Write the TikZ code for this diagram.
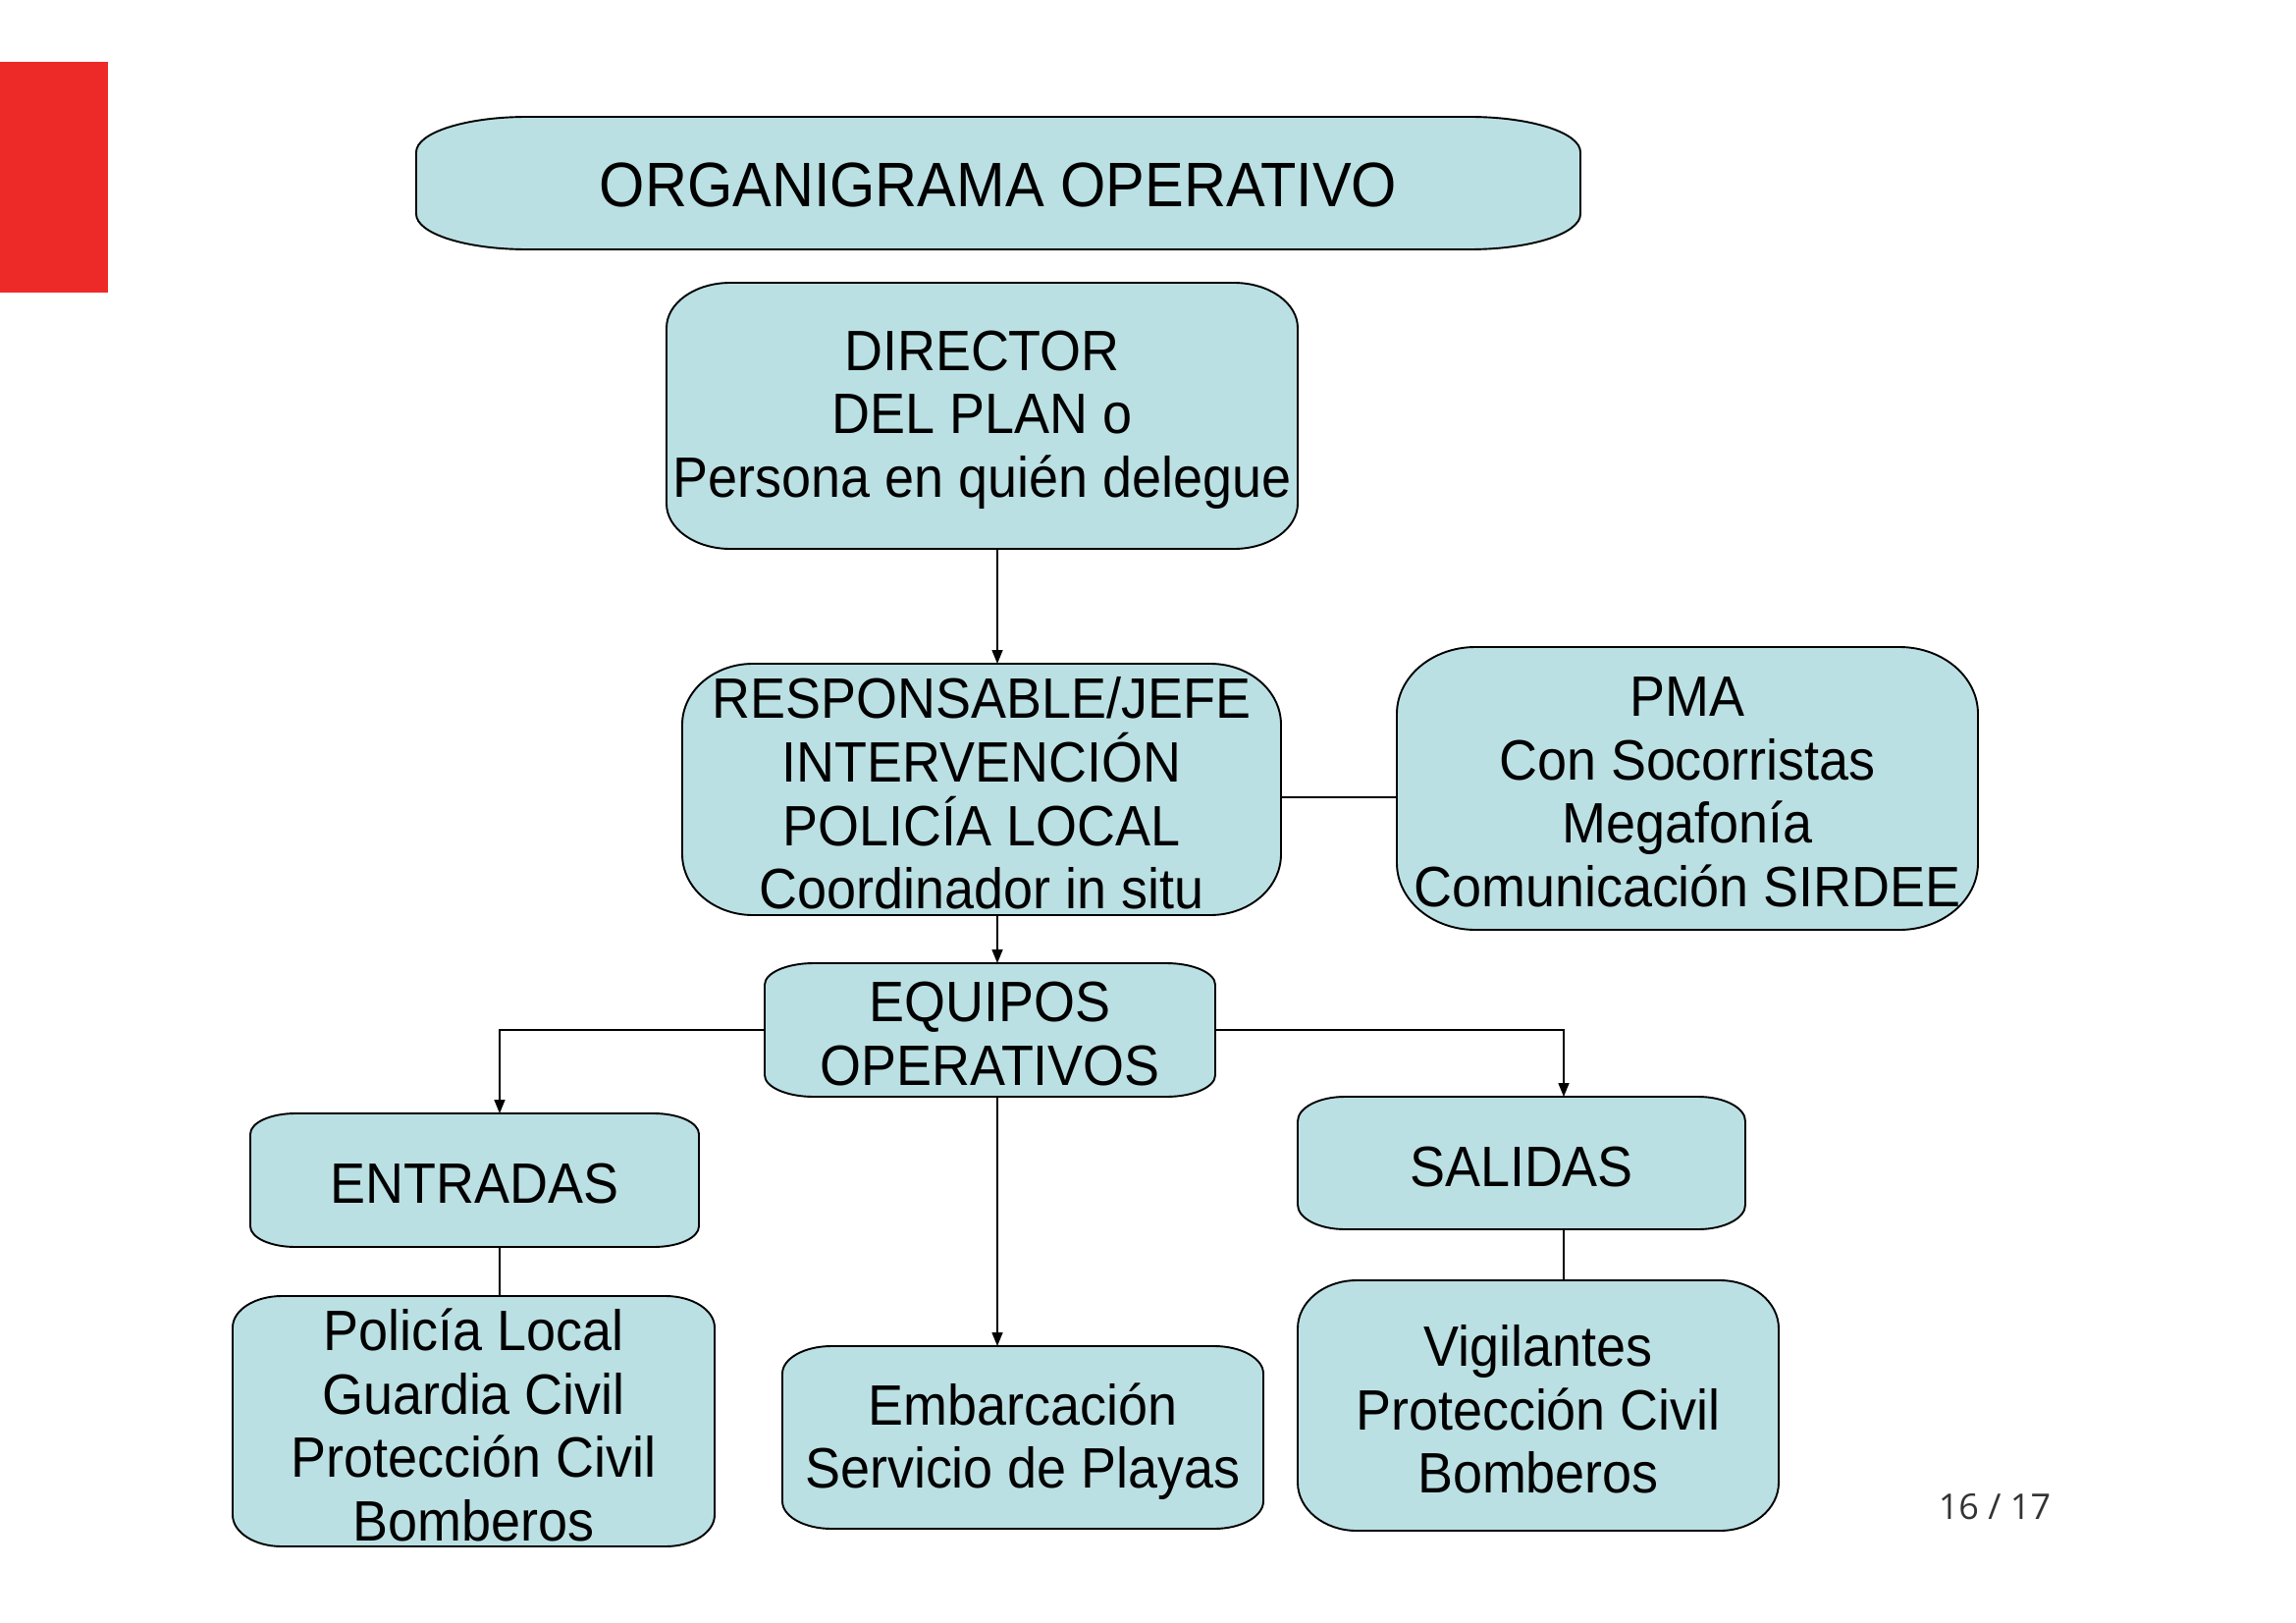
\documentclass[tikz,border=0pt]{standalone}
\usepackage{fontspec}
\setmainfont{Liberation Sans}
\newfontfamily\boxfont{Liberation Sans}[FakeStretch=0.93]
\newfontfamily\pgfont{Open Sans}
\usetikzlibrary{arrows.meta,backgrounds}
\definecolor{boxblue}{RGB}{187,224,227}
\definecolor{slidered}{RGB}{238,42,40}
\newcommand\ebox[3]{%
  \filldraw[boxline] ([xshift=#2]#1.north west) -- ([xshift=-#2]#1.north east)
   arc[start angle=90,end angle=0,x radius=#2,y radius=#3]
   -- ([yshift=#3]#1.south east)
   arc[start angle=0,end angle=-90,x radius=#2,y radius=#3]
   -- ([xshift=#2]#1.south west)
   arc[start angle=270,end angle=180,x radius=#2,y radius=#3]
   -- ([yshift=-#3]#1.north west)
   arc[start angle=180,end angle=90,x radius=#2,y radius=#3] -- cycle;}
\begin{document}
\begin{tikzpicture}[x=1pt,y=-1pt,
  shapebox/.style={inner sep=0pt, outer sep=0pt},
  boxtext/.style={font=\boxfont\fontsize{58}{64.6}\selectfont, align=center, inner sep=0pt, yshift=-4pt},
  boxline/.style={draw=black, line width=1.9pt, fill=boxblue},
  conn/.style={line width=1.5pt},
  arr/.style={conn, -{Triangle[length=14pt,width=11pt]}}]
\useasboundingbox (0,0) rectangle (2339,1653);
\fill[slidered] (0,63) rectangle (110,298);

\node[shapebox, minimum width=1186pt, minimum height=135pt] (title) at (1017,186.5) {};
\node[shapebox, minimum width=643pt, minimum height=271pt] (director) at (1000.5,423.5) {};
\node[shapebox, minimum width=610pt, minimum height=256pt] (resp) at (1000,804) {};
\node[shapebox, minimum width=592pt, minimum height=288pt] (pma) at (1719,803) {};
\node[shapebox, minimum width=459pt, minimum height=136pt] (equipos) at (1008.5,1049) {};
\node[shapebox, minimum width=457pt, minimum height=136pt] (entradas) at (483.5,1202) {};
\node[shapebox, minimum width=491pt, minimum height=255pt] (policia) at (482.5,1447.5) {};
\node[shapebox, minimum width=490pt, minimum height=186pt] (embarc) at (1042,1464) {};
\node[shapebox, minimum width=456pt, minimum height=135pt] (salidas) at (1550,1184.5) {};
\node[shapebox, minimum width=490pt, minimum height=255pt] (vigil) at (1567,1431.5) {};

\ebox{title}{113pt}{36pt}
\ebox{director}{65pt}{46pt}
\ebox{resp}{72pt}{62pt}
\ebox{pma}{80pt}{68pt}
\ebox{equipos}{50pt}{22pt}
\ebox{entradas}{46pt}{21pt}
\ebox{policia}{50pt}{32pt}
\ebox{embarc}{50pt}{28pt}
\ebox{salidas}{48pt}{25pt}
\ebox{vigil}{60pt}{49pt}

\node[boxtext, font=\boxfont\fontsize{64}{70}\selectfont, yshift=2pt] (titlet) at (title.center) {ORGANIGRAMA OPERATIVO};
\node[boxtext] (directort) at (director.center) {DIRECTOR\\DEL PLAN o\\Persona en quién delegue};
\node[boxtext] (respt) at (resp.center) {RESPONSABLE/JEFE\\INTERVENCIÓN\\POLICÍA LOCAL\\Coordinador in situ};
\node[boxtext] (pmat) at (pma.center) {PMA\\Con Socorristas\\Megafonía\\Comunicación SIRDEE};
\node[boxtext] (equipost) at (equipos.center) {EQUIPOS\\OPERATIVOS};
\node[boxtext] (entradast) at (entradas.center) {ENTRADAS};
\node[boxtext] (policiat) at (policia.center) {Policía Local\\Guardia Civil\\Protección Civil\\Bomberos};
\node[boxtext] (embarct) at (embarc.center) {Embarcación\\Servicio de Playas};
\node[boxtext] (salidast) at (salidas.center) {SALIDAS};
\node[boxtext] (vigilt) at (vigil.center) {Vigilantes\\Protección Civil\\Bomberos};

\node[font=\pgfont\fontsize{36}{40}\selectfont, text=black!80, inner sep=0pt] (pg) at (2032,1535) {16 / 17};

\coordinate (cx) at (1016,0);
\coordinate (lx) at (509,0);
\coordinate (rx) at (1593,0);
\coordinate (ly) at (0,812);

\draw[arr] (director.south -| cx) -- (resp.north -| cx);
\draw[conn] (resp.east |- ly) -- (pma.west |- ly);
\draw[arr] (resp.south -| cx) -- (equipos.north -| cx);
\draw[arr] (equipos.west) -| (entradas.north -| lx);
\draw[arr] (equipos.east) -| (salidas.north -| rx);
\draw[arr] (equipos.south -| cx) -- (embarc.north -| cx);
\draw[conn] (entradas.south -| lx) -- (policia.north -| lx);
\draw[conn] (salidas.south -| rx) -- (vigil.north -| rx);
\end{tikzpicture}
\end{document}
